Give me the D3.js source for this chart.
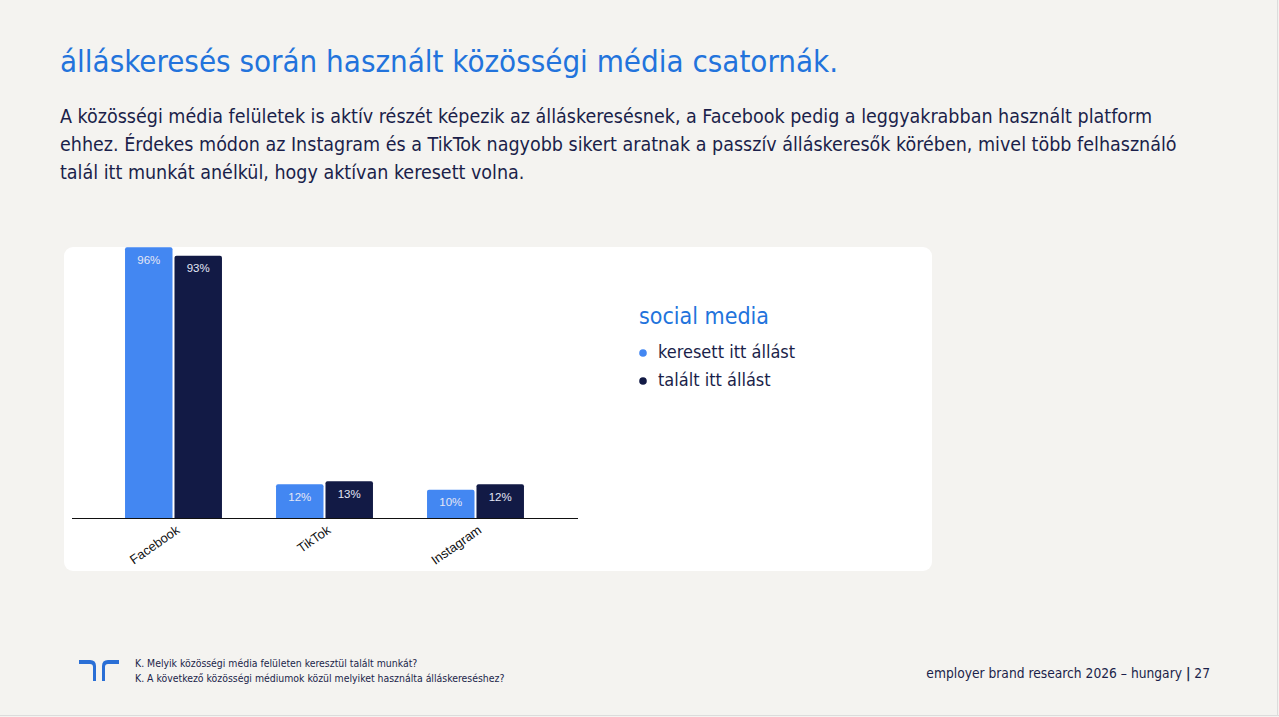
<!DOCTYPE html>
<html>
  <head>
    <meta charset="utf-8">
    <style>
      body { margin: 0; background: #f4f3f0; }
      svg { display: block; font-family: "DejaVu Sans Condensed", "DejaVu Sans", sans-serif; }
    </style>
  </head>
  <body>
    <script src="https://cdn.jsdelivr.net/npm/d3@7"></script>
    <script>
      var categories = ["Facebook", "TikTok", "Instagram"];
      var seriesNames = ["keresett itt állást", "talált itt állást"];
      var searched = [96, 12, 10];   // keresett itt állást
      var found = [93, 13, 12];      // talált itt állást
      var colors = ["#4387f2", "#121a45"];

      var titleText = "álláskeresés során használt közösségi média csatornák.";
      var bodyLines = [
        "A közösségi média felületek is aktív részét képezik az álláskeresésnek, a Facebook pedig a leggyakrabban használt platform",
        "ehhez. Érdekes módon az Instagram és a TikTok nagyobb sikert aratnak a passzív álláskeresők körében, mivel több felhasználó",
        "talál itt munkát anélkül, hogy aktívan keresett volna."
      ];
      var footNotes = [
        "K. Melyik közösségi média felületen keresztül talált munkát?",
        "K. A következő közösségi médiumok közül melyiket használta álláskereséshez?"
      ];

      var width = 1279, height = 717;
      var navy = "#1b1f4a";

      var svg = d3.select("body")
        .append("svg")
        .attr("width", width)
        .attr("height", height);

      svg.append("rect")
        .attr("width", width).attr("height", height)
        .attr("fill", "#f4f3f0");
      // slide edges
      svg.append("line").attr("x1", 0).attr("x2", width).attr("y1", 715.5).attr("y2", 715.5)
        .attr("stroke", "#dcdcdc");
      svg.append("line").attr("x1", 1277.5).attr("x2", 1277.5).attr("y1", 0).attr("y2", 716)
        .attr("stroke", "#dcdcdc");

      svg.append("text")
        .attr("x", 60).attr("y", 72)
        .attr("fill", "#2273dc")
        .style("font-size", "31px")
        .text(titleText);

      svg.append("g").selectAll("text")
        .data(bodyLines)
        .enter()
        .append("text")
        .attr("x", 60)
        .attr("y", function (d, i) { return 123 + i * 28; })
        .attr("fill", navy)
        .style("font-size", "19.5px")
        .text(function (d) { return d; });

      // white card
      svg.append("rect")
        .attr("x", 64).attr("y", 247)
        .attr("width", 868).attr("height", 324)
        .attr("rx", 9)
        .attr("fill", "#ffffff");

      var x0 = d3.scaleBand()
        .domain(categories)
        .range([98, 551])
        .paddingInner(0.358)
        .paddingOuter(0.179);

      var x1 = d3.scaleBand()
        .domain([0, 1])
        .range([0, x0.bandwidth()])
        .paddingInner(0.04);

      var y = d3.scaleLinear()
        .domain([0, 100])
        .range([518, 236]);

      var rows = categories.map(function (c, i) {
        return { cat: c, values: [searched[i], found[i]] };
      });

      var groups = svg.append("g").selectAll("g")
        .data(rows)
        .enter()
        .append("g")
        .attr("transform", function (d) { return "translate(" + x0(d.cat) + ",0)"; });

      var bars = groups.selectAll("g")
        .data(function (d) { return d.values.map(function (v, j) { return { v: v, s: j }; }); })
        .enter()
        .append("g");

      bars.append("path")
        .attr("fill", function (d) { return colors[d.s]; })
        .attr("d", function (d) {
          var bx = x1(d.s), bw = x1.bandwidth(), top = y(d.v), bot = y(0), r = 2;
          return "M" + bx + "," + bot +
            "V" + (top + r) + "Q" + bx + "," + top + " " + (bx + r) + "," + top +
            "H" + (bx + bw - r) + "Q" + (bx + bw) + "," + top + " " + (bx + bw) + "," + (top + r) +
            "V" + bot + "Z";
        });

      bars.append("text")
        .attr("x", function (d) { return x1(d.s) + x1.bandwidth() / 2; })
        .attr("y", function (d) { return y(d.v) + 16.5; })
        .attr("text-anchor", "middle")
        .attr("fill", "#e3e6f5")
        .style("font-family", "'Liberation Sans', Arial, sans-serif")
        .style("font-size", "11.5px")
        .text(function (d) { return d.v + "%"; });

      svg.append("line")
        .attr("x1", 72).attr("x2", 578)
        .attr("y1", 518.5).attr("y2", 518.5)
        .attr("stroke", "#111")
        .attr("stroke-width", 1.2);

      svg.append("g").selectAll("text")
        .data(categories)
        .enter()
        .append("text")
        .attr("text-anchor", "end")
        .attr("transform", function (d) {
          return "translate(" + (x0(d) + x0.bandwidth() / 2 + 7) + ",532) rotate(-35)";
        })
        .attr("fill", "#111")
        .style("font-family", "'Liberation Sans', Arial, sans-serif")
        .style("font-size", "13px")
        .text(function (d) { return d; });

      // legend
      svg.append("text")
        .attr("x", 639).attr("y", 324)
        .attr("fill", "#2273dc")
        .style("font-size", "23px")
        .text("social media");

      var legend = svg.append("g").selectAll("g")
        .data(seriesNames)
        .enter()
        .append("g")
        .attr("transform", function (d, i) { return "translate(643," + (353 + i * 28) + ")"; });

      legend.append("circle")
        .attr("r", 3.8)
        .attr("fill", function (d, i) { return colors[i]; });

      legend.append("text")
        .attr("x", 15).attr("y", 5)
        .attr("fill", navy)
        .style("font-size", "18px")
        .text(function (d) { return d; });

      // footer logo
      var logo = svg.append("g").attr("fill", "#2a6fd6");
      logo.append("path")
        .attr("d", "M79,660H90Q96,660 96,666V681H93V667Q93,664 90,664H79Z");
      logo.append("path")
        .attr("d", "M119,660H108Q102,660 102,666V681H105V667Q105,664 108,664H119Z");

      svg.append("g").selectAll("text")
        .data(footNotes)
        .enter()
        .append("text")
        .attr("x", 135)
        .attr("y", function (d, i) { return 667 + i * 15; })
        .attr("fill", navy)
        .style("font-size", "10.4px")
        .text(function (d) { return d; });

      var foot = svg.append("text")
        .attr("x", 1210).attr("y", 678)
        .attr("text-anchor", "end")
        .attr("fill", navy)
        .style("font-size", "13.7px");
      foot.append("tspan").text("employer brand research 2026 – hungary ");
      foot.append("tspan").style("font-weight", "bold").text("|");
      foot.append("tspan").text(" 27");
    </script>
  </body>
</html>
